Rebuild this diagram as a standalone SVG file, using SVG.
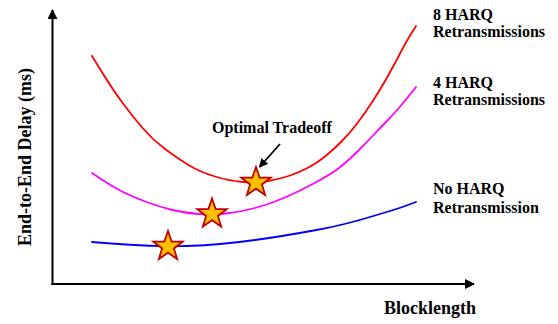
<svg xmlns="http://www.w3.org/2000/svg" width="558" height="324" viewBox="0 0 558 324">
<style>
.lbl{font-family:"Liberation Serif","Times New Roman",serif;font-weight:bold;font-size:16px;fill:#000}
.axl{font-family:"Liberation Serif","Times New Roman",serif;font-weight:bold;font-size:18px;fill:#000}
.curve{fill:none;stroke-width:1.8;stroke-linecap:round;stroke-linejoin:round}
.star{fill:#ffc000;stroke:#c00000;stroke-width:1.8;stroke-linejoin:miter}
.ax{stroke:#000;stroke-width:2;fill:none}
</style>
<defs>
<marker id="ah" viewBox="0 0 10 10" refX="9" refY="5" markerWidth="5" markerHeight="5" orient="auto" markerUnits="strokeWidth">
<path d="M0,0 L10,5 L0,10 z" fill="#000"/>
</marker>
<polygon id="starShape" points="0,-15.5 3.65,-5.01 14.74,-4.79 5.9,1.92 9.11,12.54 0,6.2 -9.11,12.54 -5.9,1.92 -14.74,-4.79 -3.65,-5.01"/>
</defs>
<g id="axes">
<line class="ax" x1="52.5" y1="285" x2="52.5" y2="10" marker-end="url(#ah)"/>
<line class="ax" x1="51.5" y1="284" x2="474" y2="284" marker-end="url(#ah)"/>
</g>
<g id="curves">
<path id="curve-8harq" class="curve" stroke="#ff0000" d="M92,56 L102.5,73 Q113,90 123,103.5 Q133,117 143,128.5 Q153,140 165,149 Q177,158 188.5,165 Q200,172 215,176.5 Q230,181 243,182 Q256,183 268,181 Q280,179 290,175.5 Q300,172 308.5,167.5 Q317,163 325,156.5 Q333,150 341.5,141.5 Q350,133 357.5,123 Q365,113 372.5,101.5 Q380,90 386.5,78.5 Q393,67 399.5,54.5 Q406,42 411,34 L416,26"/>
<path id="curve-4harq" class="curve" stroke="#ff00ff" d="M92,173 L102.5,180 Q113,187 123,192 Q133,197 146.5,202 Q160,207 172.5,210 Q185,213 198.5,214 Q212,215 226,213.5 Q240,212 255,208 Q270,204 285,197.5 Q300,191 316.5,182 Q333,173 341.5,166 Q350,159 358.5,150.5 Q367,142 373.5,135 Q380,128 386,122 Q392,116 398,109 Q404,102 410,94.5 L416,87"/>
<path id="curve-noharq" class="curve" stroke="#0000ff" d="M92,242 L111,243.5 Q130,245 149,245.75 Q168,246.5 186.5,246 Q205,245.5 222.5,243.75 Q240,242 255,240 Q270,238 285,235.5 Q300,233 316.5,230 Q333,227 346.5,223.5 Q360,220 370,217 Q380,214 390,211 Q400,208 408,205 L416,202"/>
</g>
<g id="connectors">
<line x1="280" y1="144" x2="259.5" y2="167" stroke="#000" stroke-width="1.8" marker-end="url(#ah)"/>
</g>
<g id="star-noharq"><use href="#starShape" class="star" x="168" y="246.5"/></g>
<g id="star-4harq"><use href="#starShape" class="star" x="212" y="214"/></g>
<g id="star-8harq"><use href="#starShape" class="star" x="256" y="182.5"/></g>
<g id="labels">
<text class="lbl" x="433" y="20">8 HARQ</text>
<text class="lbl" x="433" y="37">Retransmissions</text>
<text class="lbl" x="433" y="88">4 HARQ</text>
<text class="lbl" x="433" y="105">Retransmissions</text>
<text class="lbl" x="433" y="194">No HARQ</text>
<text class="lbl" x="433" y="213">Retransmission</text>
<text class="lbl" x="212" y="133">Optimal Tradeoff</text>
<text class="axl" x="476" y="314" text-anchor="end">Blocklength</text>
<text class="axl" transform="translate(31,157) rotate(-90)" text-anchor="middle">End-to-End Delay (ms)</text>
</g>
</svg>
